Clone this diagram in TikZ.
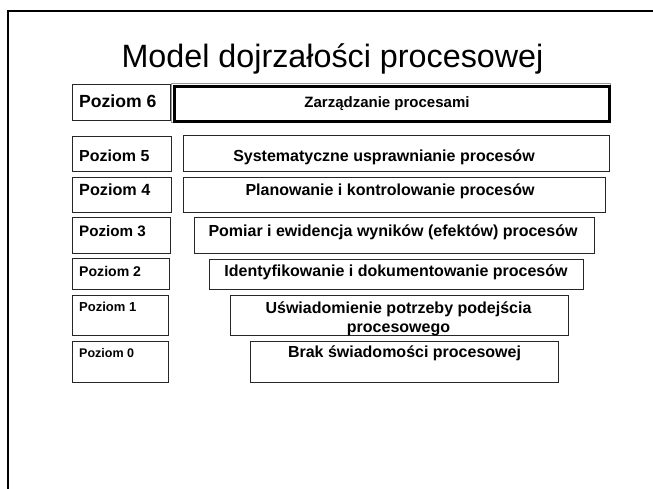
\documentclass[tikz,border=0pt]{standalone}
\usepackage{fontspec}
\setmainfont{Liberation Sans}
\begin{document}
\begin{tikzpicture}[x=1pt,y=-1pt,
  box/.style={draw=black!85,line width=1pt,inner sep=0pt,anchor=north west},
  lvl/.style={inner sep=0pt,anchor=base west,font=\bfseries\fontsize{#1}{#1}\selectfont},
  desc/.style={inner sep=0pt,anchor=base,align=center,font=\bfseries\fontsize{16}{19}\selectfont}]
\useasboundingbox (0,0) rectangle (653,488);
% slide frame (left and top edges)
\coordinate (fb) at (8,489);
\coordinate (fc) at (8,11);
\coordinate (fr) at (654,11);
\draw[line width=2.6pt] (fb) -- (fc) -- (fr);
% title
\node[inner sep=0pt,anchor=base,font=\fontsize{32.3}{36}\selectfont] (title) at (332.5,67) {Model dojrzałości procesowej};
% level 6
\node[box,minimum width=98,minimum height=36] (p6) at (72,84) {};
\node[draw=black!40,line width=1pt,inner sep=0pt,minimum width=439,minimum height=39,anchor=north west] (z6o) at (171,83) {};
\node[draw=black,line width=3pt,inner sep=0pt,minimum width=435,minimum height=35,anchor=north west] (z6) at (173,85) {};
\node[lvl=17.6] (t6) at (79,107) {Poziom 6};
\node[desc,font=\bfseries\fontsize{15}{18}\selectfont] (d6) at (387,107) {Zarządzanie procesami};
% level 5
\node[box,minimum width=99,minimum height=35] (p5) at (72,136) {};
\node[box,minimum width=426,minimum height=36] (s5) at (183,135) {};
\node[lvl=16] (t5) at (79,161) {Poziom 5};
\node[desc] (d5) at (384,161) {Systematyczne usprawnianie procesów};
% level 4
\node[box,minimum width=99,minimum height=35] (p4) at (72,177) {};
\node[box,minimum width=422,minimum height=35] (s4) at (183,177) {};
\node[lvl=16.2] (t4) at (79,195) {Poziom 4};
\node[desc] (d4) at (390,195) {Planowanie i kontrolowanie procesów};
% level 3
\node[box,minimum width=98,minimum height=36] (p3) at (72,217) {};
\node[box,minimum width=400,minimum height=36] (s3) at (194,217) {};
\node[lvl=15.2] (t3) at (79,236) {Poziom 3};
\node[desc] (d3) at (393,236) {Pomiar i ewidencja wyników (efektów) procesów};
% level 2
\node[box,minimum width=97,minimum height=31] (p2) at (72,258) {};
\node[box,minimum width=374,minimum height=30] (s2) at (209,259) {};
\node[lvl=14.1] (t2) at (79,276) {Poziom 2};
\node[desc] (d2) at (396,276) {Identyfikowanie i dokumentowanie procesów};
% level 1 (two-line text: base anchor sits on the last line)
\node[box,minimum width=96,minimum height=40] (p1) at (72,295) {};
\node[box,minimum width=338,minimum height=40] (s1) at (230,295) {};
\node[lvl=13] (t1) at (79,311) {Poziom 1};
\node[desc] (d1) at (398.5,332) {Uświadomienie potrzeby podejścia\\procesowego};
% level 0
\node[box,minimum width=96,minimum height=41] (p0) at (72,341) {};
\node[box,minimum width=308,minimum height=41] (s0) at (250,341) {};
\node[lvl=12.5] (t0) at (79,357) {Poziom 0};
\node[desc] (d0) at (404.5,357) {Brak świadomości procesowej};
\end{tikzpicture}
\end{document}
